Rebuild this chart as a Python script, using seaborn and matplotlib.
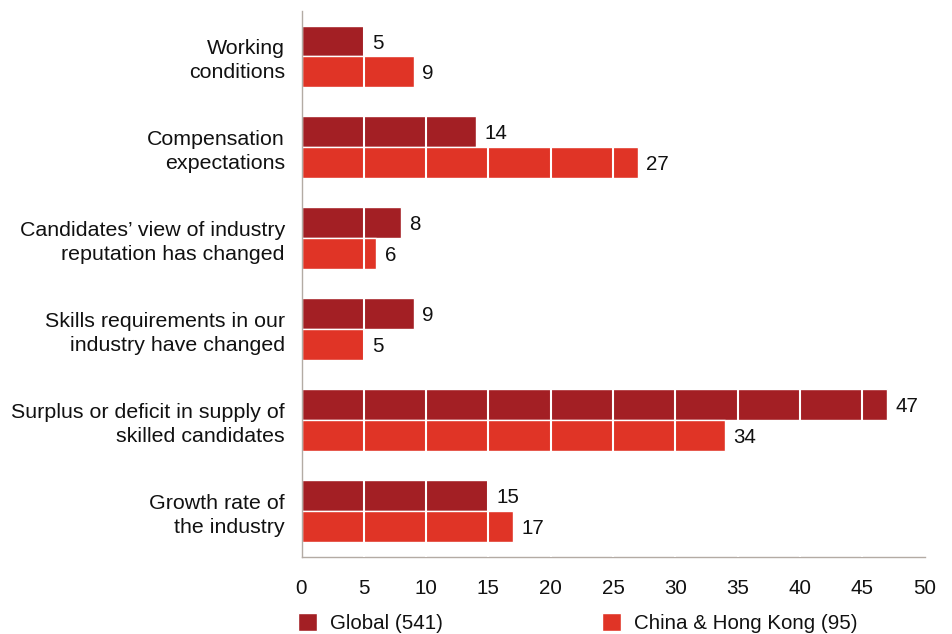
import numpy as np
import pandas as pd
import matplotlib
matplotlib.use("Agg")
import matplotlib.pyplot as plt
from matplotlib.patches import Patch
import seaborn as sns

# Reasons behind hiring difficulties, % of respondents
factors = [
    "Working\nconditions",
    "Compensation\nexpectations",
    "Candidates\u2019 view of industry\nreputation has changed",
    "Skills requirements in our\nindustry have changed",
    "Surplus or deficit in supply of\nskilled candidates",
    "Growth rate of\nthe industry",
]
global_values = [5, 14, 8, 9, 47, 15]
china_hk_values = [9, 27, 6, 5, 34, 17]
series_names = ["Global (541)", "China & Hong Kong (95)"]
x_ticks = [0, 5, 10, 15, 20, 25, 30, 35, 40, 45, 50]

DARK_RED = "#A31F24"
BRIGHT_RED = "#E03426"
AXIS_GREY = "#B3ABA4"
TEXT = "#111111"

sns.set_style("white")
plt.rcParams["font.family"] = ["Liberation Sans", "DejaVu Sans"]

df = pd.DataFrame({
    "factor": factors * 2,
    "value": global_values + china_hk_values,
    "series": [series_names[0]] * len(factors) + [series_names[1]] * len(factors),
})

fig = plt.figure(figsize=(9.52, 6.34), dpi=100)
ax = fig.add_axes([301.5 / 952, 1 - 556.5 / 634, 623 / 952, 545.5 / 634])

sns.barplot(
    data=df, x="value", y="factor", hue="series", orient="h",
    palette=[DARK_RED, BRIGHT_RED], saturation=1, width=0.68,
    errorbar=None, legend=False, ax=ax,
)

# value labels at the end of each bar
for container in ax.containers:
    texts = ax.bar_label(container, fmt="%d", padding=6, fontsize=14.8, color=TEXT)
    for t in texts:
        t.set_va("center_baseline")

ax.set(xlabel="", ylabel="")
ax.set_xlim(0, 50)
ax.set_ylim(len(factors) - 0.5, -0.5)
ax.set_xticks(x_ticks)
ax.set_xticklabels([str(t) for t in x_ticks])

# white separators across the bars
ax.xaxis.grid(True, color="white", linewidth=1.5)
ax.set_axisbelow(False)
gridlines = ax.get_xgridlines()
gridlines[0].set_visible(False)
gridlines[-1].set_visible(False)

# group separators on the category axis
ax.set_yticks(np.arange(-0.5, len(factors), 1.0), minor=True)
ax.tick_params(axis="y", which="major", length=0, pad=12, labelsize=15.4, labelcolor=TEXT)
ax.tick_params(axis="y", which="minor", length=6.5, width=1, color=AXIS_GREY, direction="out")
ax.tick_params(axis="x", which="major", length=3.6, width=1, color=AXIS_GREY, direction="out",
               pad=12.5, labelsize=14.8, labelcolor=TEXT)
for label in ax.get_yticklabels():
    label.set_linespacing(1.32)

for side in ("top", "right"):
    ax.spines[side].set_visible(False)
for side in ("left", "bottom"):
    ax.spines[side].set_color(AXIS_GREY)
    ax.spines[side].set_linewidth(1)

handles = [Patch(facecolor=DARK_RED), Patch(facecolor=BRIGHT_RED)]
fig.legend(
    handles, series_names, loc="center left",
    bbox_to_anchor=(298 / 952, 1 - 623 / 634), ncol=2, frameon=False,
    fontsize=14.8, handlelength=0.93, handleheight=0.93, handletextpad=0.62,
    columnspacing=7.75, borderpad=0, borderaxespad=0, labelcolor=TEXT,
)

fig.savefig("out.png", dpi=100)
